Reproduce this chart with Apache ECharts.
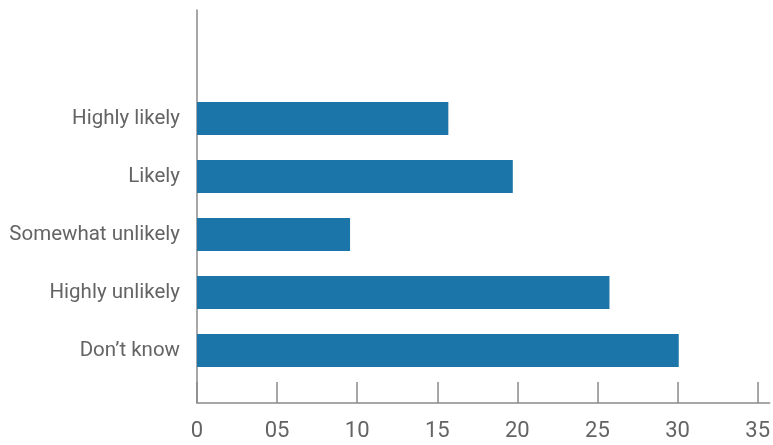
<!DOCTYPE html>
<html>
<head>
<meta charset="utf-8">
<script src="https://cdn.jsdelivr.net/npm/echarts@6/dist/echarts.min.js"></script>
<style>html,body{margin:0;padding:0;background:#fff;}#c{width:773px;height:445px;}</style>
</head>
<body>
<div id="c"></div>
<script>
const categories = ['Highly likely', 'Likely', 'Somewhat unlikely', 'Highly unlikely', 'Don\u2019t know'];
const values = [15.6, 19.6, 9.5, 25.6, 29.9];
const xTicks = [0, 5, 10, 15, 20, 25, 30, 35];
const xTickLabels = ['0', '05', '10', '15', '20', '25', '30', '35'];

const FONT = 'Roboto';
const TXT = '#646464';
const AX = '#8a8a8a';
const XMAX = 35.75;

const chart = echarts.init(document.getElementById('c'), null, {renderer: 'canvas'});
chart.setOption({
  animation: false,
  grid: [
    {left: 197, right: 0, top: 89.5, height: 290, containLabel: false},
    {left: 197, right: 0, top: 10, bottom: 42, containLabel: false}
  ],
  xAxis: [
    {gridIndex: 0, type: 'value', min: 0, max: XMAX, show: false},
    {gridIndex: 1, type: 'value', min: 0, max: XMAX,
      axisLine: {show: true, lineStyle: {color: AX, width: 1.5}},
      axisTick: {show: true, inside: true, length: 21, lineStyle: {color: AX, width: 1.5}, customValues: xTicks},
      axisLabel: {show: true, color: TXT, fontFamily: FONT, fontSize: 22, margin: 17,
        customValues: xTicks,
        formatter: function (v) { const i = xTicks.indexOf(v); return i >= 0 ? xTickLabels[i] : ''; }},
      splitLine: {show: false}}
  ],
  yAxis: [
    {gridIndex: 0, type: 'category', data: categories, inverse: true,
      axisLine: {show: false}, axisTick: {show: false},
      axisLabel: {color: TXT, fontFamily: FONT, fontSize: 20.5, margin: 17}},
    {gridIndex: 1, type: 'value', min: 0, max: 1,
      axisLine: {show: true, lineStyle: {color: AX, width: 1.5}},
      axisTick: {show: false}, axisLabel: {show: false}, splitLine: {show: false}}
  ],
  series: [{
    type: 'bar', xAxisIndex: 0, yAxisIndex: 0,
    data: values, barWidth: 33,
    itemStyle: {color: '#1c75a8'}
  }]
});
</script>
</body>
</html>
